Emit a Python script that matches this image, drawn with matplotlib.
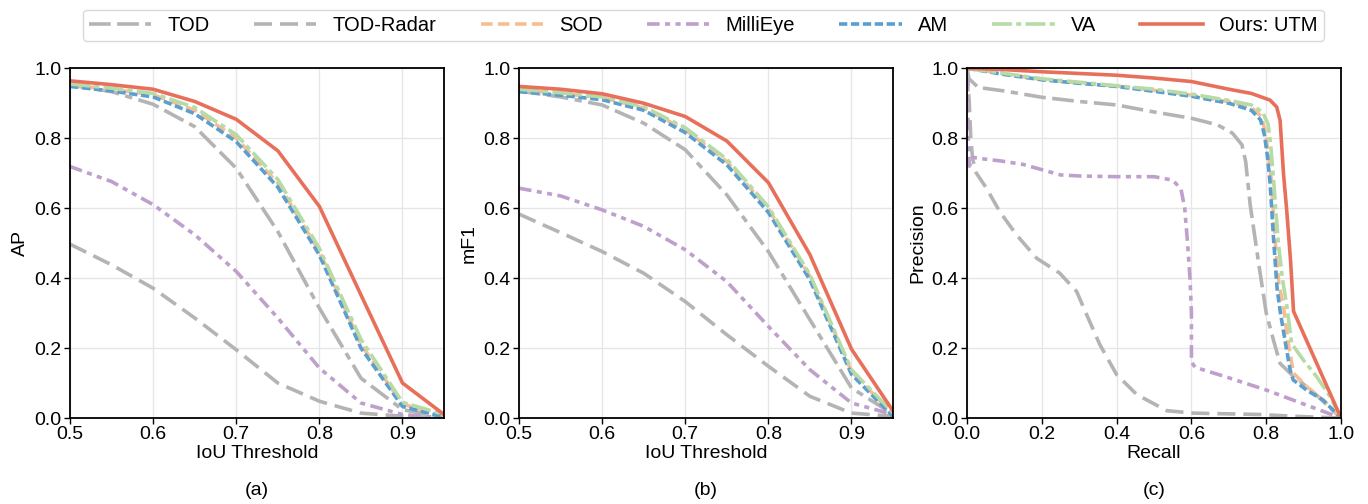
# -*- coding:utf-8 -*-
"""
AP / mF1 vs IoU threshold and precision-recall curves, three panels
"""
from matplotlib import pyplot as plt

plt.rcParams['font.family'] = ['Liberation Sans', 'DejaVu Sans']
plt.rcParams['font.size'] = 14

# IoU thresholds for panels (a) and (b)
iou = [0.5, 0.55, 0.6, 0.65, 0.7, 0.75, 0.8, 0.85, 0.9, 0.95]

# (a) AP
ap_tod = [0.952, 0.933, 0.897, 0.833, 0.714, 0.533, 0.314, 0.114, 0.024, 0.002]
ap_tod_radar = [0.497, 0.438, 0.371, 0.286, 0.195, 0.100, 0.048, 0.014, 0.005, 0.0]
ap_sod = [0.952, 0.940, 0.924, 0.880, 0.800, 0.671, 0.476, 0.210, 0.040, 0.005]
ap_millieye = [0.719, 0.676, 0.610, 0.524, 0.419, 0.286, 0.143, 0.043, 0.010, 0.0]
ap_am = [0.948, 0.935, 0.918, 0.870, 0.790, 0.660, 0.466, 0.200, 0.033, 0.003]
ap_va = [0.955, 0.943, 0.928, 0.888, 0.810, 0.682, 0.485, 0.225, 0.045, 0.010]
ap_utm = [0.964, 0.953, 0.940, 0.905, 0.854, 0.764, 0.605, 0.352, 0.100, 0.010]

# (b) mF1
f1_tod = [0.935, 0.918, 0.895, 0.843, 0.767, 0.638, 0.476, 0.281, 0.086, 0.011]
f1_tod_radar = [0.583, 0.530, 0.476, 0.414, 0.333, 0.238, 0.148, 0.062, 0.014, 0.005]
f1_sod = [0.938, 0.928, 0.916, 0.886, 0.824, 0.733, 0.598, 0.405, 0.133, 0.010]
f1_millieye = [0.657, 0.635, 0.595, 0.548, 0.481, 0.390, 0.262, 0.138, 0.043, 0.010]
f1_am = [0.933, 0.923, 0.910, 0.880, 0.816, 0.724, 0.588, 0.395, 0.125, 0.005]
f1_va = [0.940, 0.930, 0.918, 0.890, 0.830, 0.740, 0.604, 0.410, 0.138, 0.015]
f1_utm = [0.948, 0.940, 0.927, 0.900, 0.862, 0.792, 0.673, 0.467, 0.197, 0.020]

# (c) precision-recall
rec_tod = [0, 0.005, 0.03, 0.1, 0.2, 0.3, 0.4, 0.5, 0.6, 0.67, 0.71, 0.735, 0.745, 0.757,
           0.78, 0.8, 0.82, 0.837, 0.864, 0.93, 1.0]
pre_tod = [1.0, 0.97, 0.945, 0.935, 0.917, 0.905, 0.895, 0.875, 0.857, 0.838, 0.814, 0.781,
           0.733, 0.61, 0.44, 0.30, 0.22, 0.156, 0.128, 0.07, 0.0]

rec_tod_radar = [0, 0.006, 0.01, 0.015, 0.025, 0.052, 0.0875, 0.132, 0.186, 0.248, 0.293,
                 0.32, 0.355, 0.4, 0.454, 0.534, 0.605, 0.784, 0.873, 1.0]
pre_tod_radar = [1.0, 0.9, 0.8, 0.74, 0.70, 0.657, 0.59, 0.524, 0.457, 0.414, 0.362,
                 0.295, 0.21, 0.124, 0.067, 0.021, 0.014, 0.01, 0.005, 0.0]

rec_sod = [0, 0.1, 0.2, 0.3, 0.4, 0.5, 0.6, 0.7, 0.76, 0.787, 0.798, 0.806, 0.814, 0.824,
           0.834, 0.846, 0.859, 0.873, 0.908, 0.962, 1.0]
pre_sod = [1.0, 0.984, 0.968, 0.958, 0.949, 0.937, 0.923, 0.904, 0.888, 0.862, 0.815, 0.75,
           0.676, 0.505, 0.38, 0.32, 0.213, 0.128, 0.09, 0.042, 0.0]

rec_millieye = [0.002, 0.003, 0.006, 0.015, 0.05, 0.09, 0.15, 0.2, 0.25, 0.3, 0.4, 0.5,
                0.55, 0.572, 0.582, 0.59, 0.596, 0.6, 0.6, 0.61, 0.7, 0.8, 0.9, 1.0]
pre_millieye = [0.97, 0.8, 0.72, 0.745, 0.74, 0.735, 0.725, 0.71, 0.695, 0.692, 0.69, 0.69,
                0.68, 0.655, 0.6, 0.495, 0.40, 0.3, 0.16, 0.145, 0.115, 0.08, 0.04, 0.0]

rec_am = [0, 0.1, 0.2, 0.3, 0.4, 0.5, 0.6, 0.7, 0.76, 0.785, 0.795, 0.803, 0.81, 0.82,
          0.829, 0.838, 0.852, 0.864, 0.872, 0.908, 0.952, 1.0]
pre_am = [1.0, 0.982, 0.967, 0.957, 0.948, 0.934, 0.92, 0.90, 0.88, 0.852, 0.81, 0.75,
          0.676, 0.505, 0.37, 0.30, 0.21, 0.137, 0.109, 0.08, 0.051, 0.0]

rec_va = [0, 0.1, 0.2, 0.3, 0.4, 0.5, 0.6, 0.7, 0.76, 0.79, 0.805, 0.812, 0.82, 0.832,
          0.843, 0.855, 0.868, 0.899, 0.935, 0.971, 1.0]
pre_va = [1.0, 0.985, 0.97, 0.96, 0.95, 0.94, 0.926, 0.908, 0.895, 0.875, 0.84, 0.78,
          0.676, 0.505, 0.40, 0.32, 0.213, 0.166, 0.118, 0.061, 0.0]

rec_utm = [0, 0.1, 0.2, 0.3, 0.4, 0.5, 0.6, 0.7, 0.76, 0.81, 0.828, 0.837, 0.841, 0.846,
           0.855, 0.865, 0.873, 1.0]
pre_utm = [1.0, 0.996, 0.99, 0.985, 0.98, 0.972, 0.962, 0.94, 0.928, 0.909, 0.889, 0.851,
           0.785, 0.70, 0.59, 0.45, 0.305, 0.0]

names = ['TOD', 'TOD-Radar', 'SOD', 'MilliEye', 'AM', 'VA', 'Ours: UTM']

# line styles for each method
styles = [
    dict(color='#b4b4b4', ls=(0, (6, 1.8, 6, 1.8, 2, 1.8)), lw=2.6),
    dict(color='#b4b4b4', ls=(0, (5, 2.2)), lw=2.6),
    dict(color='#f5bf93', ls=(0, (3.2, 1.5)), lw=2.6),
    dict(color='#bf9fcc', ls=(0, (3.5, 1.5, 1.4, 1.5, 1.4, 1.5)), lw=2.6),
    dict(color='#5a9fcf', ls=(0, (2.3, 1.0)), lw=2.6),
    dict(color='#b7dba6', ls=(0, (5.5, 1.2, 1.4, 1.2)), lw=2.6),
    dict(color='#e8705b', ls='-', lw=2.6),
]

fig = plt.figure(figsize=(13.68, 5.04), dpi=100)
w, h, b = 0.2734, 0.694, 0.1706
ax1 = fig.add_axes([0.0512, b, w, h])
ax2 = fig.add_axes([0.3794, b, w, h])
ax3 = fig.add_axes([0.7069, b, w, h])

panel_a = [ap_tod, ap_tod_radar, ap_sod, ap_millieye, ap_am, ap_va, ap_utm]
panel_b = [f1_tod, f1_tod_radar, f1_sod, f1_millieye, f1_am, f1_va, f1_utm]
panel_c = [(rec_tod, pre_tod), (rec_tod_radar, pre_tod_radar), (rec_sod, pre_sod),
           (rec_millieye, pre_millieye), (rec_am, pre_am), (rec_va, pre_va),
           (rec_utm, pre_utm)]

handles = []
for i in range(7):
    ln, = ax1.plot(iou, panel_a[i], label=names[i], **styles[i])
    handles.append(ln)
    ax2.plot(iou, panel_b[i], **styles[i])
    ax3.plot(panel_c[i][0], panel_c[i][1], **styles[i])

for ax in [ax1, ax2]:
    ax.set_xlim(0.5, 0.95)
    ax.set_xticks([0.5, 0.6, 0.7, 0.8, 0.9])
    ax.set_xlabel('IoU Threshold', labelpad=1)
ax3.set_xlim(0, 1)
ax3.set_xticks([0, 0.2, 0.4, 0.6, 0.8, 1.0])
ax3.set_xlabel('Recall', labelpad=1)

ax1.set_ylabel('AP')
ax2.set_ylabel('mF1')
ax3.set_ylabel('Precision')

for ax, tag in zip([ax1, ax2, ax3], ['(a)', '(b)', '(c)']):
    ax.set_ylim(0, 1)
    ax.set_yticks([0, 0.2, 0.4, 0.6, 0.8, 1.0])
    ax.xaxis.set_major_formatter(plt.FormatStrFormatter('%.1f'))
    ax.yaxis.set_major_formatter(plt.FormatStrFormatter('%.1f'))
    ax.grid(True, color='#e6e6e6', lw=1)
    ax.set_axisbelow(True)
    for s in ax.spines.values():
        s.set_linewidth(1.3)
    ax.tick_params(length=4, width=1, pad=2)
    ax.text(0.5, -0.206, tag, transform=ax.transAxes, ha='center', va='center', fontsize=14)

fig.legend(handles=handles, loc='upper center', bbox_to_anchor=(0.514, 1.0), ncol=7,
           frameon=True, fancybox=True, edgecolor='#d0d0d0', fontsize=14.5,
           handlelength=3.1, handletextpad=0.8, columnspacing=2.2, borderpad=0.3)

plt.savefig('out.png', dpi=100)
